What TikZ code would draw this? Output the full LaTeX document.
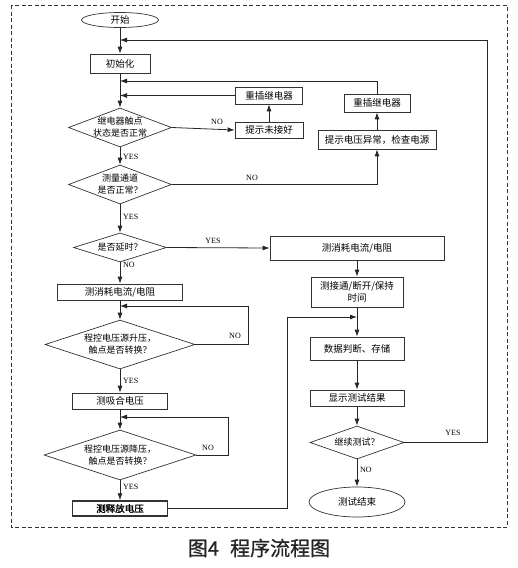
\documentclass[tikz,border=0pt]{standalone}
\usepackage{fontspec}
\setmainfont{Liberation Serif}
\newfontfamily\cjk{Noto Sans CJK SC}
\newfontfamily\cjkb[FakeBold=1.5]{Noto Sans CJK SC}
\newfontfamily\cjkc[FakeBold=0.8]{Noto Sans CJK SC}
\usetikzlibrary{shapes.geometric,arrows.meta,calc}
\begin{document}
\begin{tikzpicture}[x=1pt,y=-1pt,
  ln/.style={draw=black!85, line width=0.8pt},
  arr/.style={ln, -{Latex[length=7pt,width=5pt]}},
  box/.style={draw=black!80, line width=0.7pt, rectangle, inner sep=0pt, font=\cjk\fontsize{9.5}{12}\selectfont, align=center},
  oval/.style={draw=black!80, line width=0.7pt, ellipse, inner sep=0pt, font=\cjk\fontsize{9.5}{12}\selectfont},
  dia/.style={draw=black!80, line width=0.7pt, diamond, inner sep=0pt},
  dtxt/.style={font=\cjk\fontsize{9}{12}\selectfont, align=center, inner sep=0pt},
  yn/.style={font=\fontsize{8}{9}\selectfont, inner sep=1pt},
  frame/.style={draw=black!80, line width=0.8pt, dash pattern=on 4pt off 2.5pt}
]
\useasboundingbox (0,0) rectangle (518,568);
\draw[frame] (11,5) rectangle (507,527);

% left column
\node[oval, minimum width=77pt, minimum height=15pt] (start) at (120,20) {开始};
\node[box, minimum width=60pt, minimum height=19pt] (init) at (120,63.5) {初始化};
\node[dia, minimum width=103pt, minimum height=39pt] (d1) at (120,127.5) {};
\node[dtxt] (d1t) at (d1) {继电器触点\\状态是否正常};
\node[dia, minimum width=103pt, minimum height=39pt] (d2) at (120,184.5) {};
\node[dtxt] (d2t) at (d2) {测量通道\\是否正常？};
\node[dia, minimum width=93pt, minimum height=29pt] (d3) at (120,247.5) {};
\node[dtxt] (d3t) at (d3) {是否延时？};
\node[box, minimum width=125pt, minimum height=16pt] (cur1) at (120,292) {测消耗电流/电阻};
\node[dia, minimum width=150pt, minimum height=49pt] (d4) at (120,344.5) {};
\node[dtxt] (d4t) at (d4) {程控电压源升压，\\触点是否转换？};
\node[box, minimum width=95pt, minimum height=16pt] (pull) at (120,401) {测吸合电压};
\node[dia, minimum width=152pt, minimum height=50pt] (d5) at (120,455) {};
\node[dtxt] (d5t) at (d5) {程控电压源降压，\\触点是否转换？};
\node[box, line width=1.5pt, minimum width=95pt, minimum height=15pt, font=\cjkb\fontsize{9.5}{12}\selectfont] (rel) at (120,508.5) {测释放电压};

% upper right
\node[box, minimum width=68pt, minimum height=16pt] (chk) at (269,130) {提示未接好};
\node[box, minimum width=67pt, minimum height=17pt] (re1) at (269,95.5) {重插继电器};
\node[box, minimum width=66pt, minimum height=18pt] (re2) at (377,103) {重插继电器};
\node[box, minimum width=118pt, minimum height=19pt] (vol) at (377,139.5) {提示电压异常，检查电源};

% right column
\node[box, minimum width=174pt, minimum height=24pt] (cur2) at (357,248) {测消耗电流/电阻};
\node[box, minimum width=92pt, minimum height=30pt] (conn) at (357,292) {测接通/断开/保持\\时间};
\node[box, minimum width=94pt, minimum height=23pt] (data) at (357,348.5) {数据判断、存储};
\node[box, minimum width=94pt, minimum height=16pt] (show) at (357,398) {显示测试结果};
\node[dia, minimum width=94pt, minimum height=33pt] (d6) at (357,442.5) {};
\node[dtxt] (d6t) at (d6) {继续测试？};
\node[oval, minimum width=96pt, minimum height=30pt] (end) at (357,502) {测试结束};

% junction points on the main lines
\coordinate (j1) at (120,40);
\coordinate (j2) at (120,81);
\coordinate (j4) at (120,306);
\coordinate (j5) at (120,417);
\coordinate (j6) at (357,317);
\coordinate (r1) at (487,40);
\coordinate (r4) at (248,306);
\coordinate (r5) at (228,417);
\coordinate (r6) at (287,317);

% main flow
\draw[arr] (start) -- (init);
\draw[arr] (init) -- (d1);
\draw[arr] (d1) -- (d2);
\draw[arr] (d2) -- (d3);
\draw[arr] (d3) -- (cur1);
\draw[arr] (cur1) -- (d4);
\draw[arr] (d4) -- (pull);
\draw[arr] (pull) -- (d5);
\draw[arr] (d5) -- (rel);

\draw[arr] (d1.east) -- (chk.west);
\draw[arr] (chk) -- (re1);
\draw[arr] (re1.west) -- (re1.west -| j2);
\draw[arr] (re2.north) |- (j2);
\draw[arr] (vol) -- (re2);
\draw[arr] (d2.east) -| (vol.south);

\draw[arr] (d3.east) -- (cur2.west);
\draw[arr] (cur2) -- (conn);
\draw[arr] (conn) -- (data);
\draw[arr] (data) -- (show);
\draw[arr] (show) -- (d6);
\draw[arr] (d6) -- (end);

% loops
\draw[arr] (d4.east) -| (r4) -- (j4);
\draw[arr] (d5.east) -| (r5) -- (j5);
\draw[arr] (rel.east) -| (r6) -- (j6);
\draw[arr] (d6.east) -| (r1) -- (j1);

% labels
\node[yn, anchor=south] (n1) at (217,126) {NO};
\node[yn, anchor=west] (y1) at (122,157) {YES};
\node[yn, anchor=south] (n2) at (252,182) {NO};
\node[yn, anchor=west] (y2) at (122,217) {YES};
\node[yn, anchor=south] (y3) at (213,245) {YES};
\node[yn, anchor=west] (n3) at (122,265) {NO};
\node[yn] (n4) at (235,336) {NO};
\node[yn, anchor=west] (y4) at (122,381) {YES};
\node[yn] (n5) at (208,448) {NO};
\node[yn, anchor=west] (y5) at (122,487) {YES};
\node[yn] (y6) at (453,433) {YES};
\node[yn, anchor=west] (n6) at (359,470) {NO};

\node[font=\cjkc\fontsize{20}{24}\selectfont, text=black!85] (cap) at (259,548) {图4\,\, 程序流程图};
\end{tikzpicture}
\end{document}
